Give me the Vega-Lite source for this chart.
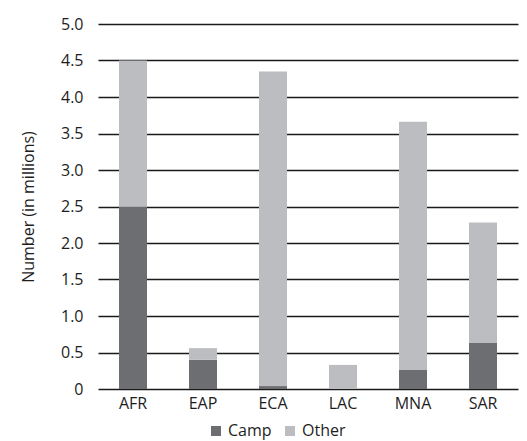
{
  "$schema": "https://vega.github.io/schema/vega-lite/v6.json",
  "width": 420,
  "height": 365,
  "autosize": "none",
  "padding": {"left": 98, "top": 24, "right": 9, "bottom": 52},
  "background": "white",
  "config": {
    "view": {"stroke": null},
    "font": "Open Sans",
    "axis": {"labelFont": "Open Sans", "titleFont": "Open Sans", "labelColor": "#1e1e1e", "titleColor": "#1e1e1e"},
    "legend": {"labelFont": "Open Sans"}
  },
  "data": {
    "values": [
      {"region": "AFR", "type": "Camp", "value": 2.5},
      {"region": "AFR", "type": "Other", "value": 2.0},
      {"region": "EAP", "type": "Camp", "value": 0.4},
      {"region": "EAP", "type": "Other", "value": 0.16},
      {"region": "ECA", "type": "Camp", "value": 0.04},
      {"region": "ECA", "type": "Other", "value": 4.31},
      {"region": "LAC", "type": "Camp", "value": 0.0},
      {"region": "LAC", "type": "Other", "value": 0.33},
      {"region": "MNA", "type": "Camp", "value": 0.26},
      {"region": "MNA", "type": "Other", "value": 3.4},
      {"region": "SAR", "type": "Camp", "value": 0.63},
      {"region": "SAR", "type": "Other", "value": 1.65}
    ]
  },
  "mark": {"type": "bar"},
  "encoding": {
    "x": {
      "field": "region",
      "type": "nominal",
      "sort": ["AFR", "EAP", "ECA", "LAC", "MNA", "SAR"],
      "scale": {"paddingInner": 0.6, "paddingOuter": 0.3},
      "axis": {
        "title": null,
        "labelAngle": 0,
        "labelFontSize": 16,
        "labelPadding": 6,
        "ticks": false,
        "domain": false
      }
    },
    "y": {
      "field": "value",
      "type": "quantitative",
      "stack": "zero",
      "scale": {"domain": [0, 5], "nice": false},
      "axis": {
        "title": "Number (in millions)",
        "titleFontSize": 16,
        "titleFontWeight": "normal",
        "titlePadding": 24,
        "values": [0, 0.5, 1, 1.5, 2, 2.5, 3, 3.5, 4, 4.5, 5],
        "labelExpr": "datum.value == 0 ? '0' : format(datum.value, '.1f')",
        "labelFontSize": 16,
        "labelPadding": 15,
        "ticks": false,
        "domain": false,
        "grid": true,
        "gridColor": "#1a1a1a",
        "gridWidth": 1.3
      }
    },
    "color": {
      "field": "type",
      "type": "nominal",
      "scale": {"domain": ["Camp", "Other"], "range": ["#6d6e71", "#bcbdc0"]},
      "legend": {
        "title": null,
        "orient": "none",
        "direction": "horizontal",
        "legendX": 110,
        "legendY": 399,
        "symbolType": "square",
        "symbolSize": 100,
        "symbolStrokeWidth": 0,
        "labelFontSize": 16,
        "labelColor": "#1e1e1e",
        "columnPadding": 10,
        "labelOffset": 4
      }
    },
    "order": {"field": "type", "sort": "ascending"}
  }
}
